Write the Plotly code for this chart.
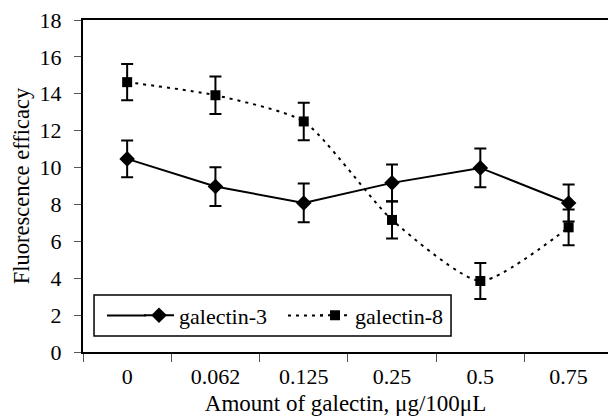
import plotly.graph_objects as go

categories = ["0", "0.062", "0.125", "0.25", "0.5", "0.75"]
gal3 = [10.47, 8.97, 8.08, 9.17, 9.98, 8.08]
gal3_err = [1.0, 1.05, 1.05, 1.0, 1.05, 1.0]
gal8 = [14.63, 13.92, 12.5, 7.16, 3.85, 6.76]
gal8_err = [0.98, 1.02, 1.02, 1.0, 0.97, 0.97]
y_ticks = [0, 2, 4, 6, 8, 10, 12, 14, 16, 18]

FONT = "Liberation Serif"

fig = go.Figure()
fig.add_trace(go.Scatter(
    x=categories, y=gal3, name="galectin-3", mode="lines+markers",
    line=dict(color="black", width=2),
    marker=dict(symbol="diamond", size=12, color="black"),
    error_y=dict(type="data", array=gal3_err, visible=True, color="black",
                 thickness=2, width=6),
))
fig.add_trace(go.Scatter(
    x=categories, y=gal8, name="galectin-8", mode="lines+markers",
    line=dict(color="black", width=2, dash="3px,5px", shape="spline", smoothing=0.6),
    marker=dict(symbol="square", size=10, color="black"),
    error_y=dict(type="data", array=gal8_err, visible=True, color="black",
                 thickness=2, width=6),
))

# legend frame and longer legend samples
fig.add_shape(type="rect", xref="paper", yref="paper",
              x0=0.021, x1=0.701, y0=0.048, y1=0.172,
              line=dict(color="black", width=1.5), fillcolor="white", layer="below")
fig.add_shape(type="line", xref="paper", yref="paper",
              x0=(107 - 83) / 525, x1=(146 - 83) / 525, y0=0.11, y1=0.11,
              line=dict(color="black", width=2))
fig.add_shape(type="line", xref="paper", yref="paper",
              x0=(288 - 83) / 525, x1=(326 - 83) / 525, y0=0.11, y1=0.11,
              line=dict(color="black", width=2, dash="3px,5px"))

fig.update_layout(
    width=608, height=416,
    margin=dict(l=83, r=0, t=20, b=64),
    paper_bgcolor="white", plot_bgcolor="white",
    font=dict(family=FONT, size=22, color="black"),
    showlegend=True,
    legend=dict(
        orientation="h", x=0.1067, xanchor="left", y=0.11, yanchor="middle",
        borderwidth=0, bgcolor="rgba(0,0,0,0)",
        font=dict(family=FONT, size=22, color="black"),
        entrywidth=131, entrywidthmode="pixels",
    ),
    xaxis=dict(
        type="category", range=[-0.5, 5.446],
        showline=True, linecolor="black", linewidth=2, mirror=True,
        ticks="outside", tickson="boundaries", ticklen=8, tickcolor="#555", tickwidth=1,
        showgrid=False, zeroline=False, automargin=False, ticklabelstandoff=4,
        tickfont=dict(family=FONT, size=22),
        title=dict(text="Amount of galectin, μg/100μL", font=dict(family=FONT, size=23)),
    ),
    yaxis=dict(
        range=[0, 18], tickvals=y_ticks,
        showline=True, linecolor="black", linewidth=2, mirror=False,
        ticks="outside", ticklen=7, tickcolor="#555", tickwidth=1,
        showgrid=False, zeroline=False, automargin=False, ticklabelstandoff=8,
        tickfont=dict(family=FONT, size=22),
        title=dict(text="Fluorescence efficacy", font=dict(family=FONT, size=22.5), standoff=4),
    ),
)

fig.write_html("out.html", post_script="document.body.style.margin='0';",
               config={"displayModeBar": False})
